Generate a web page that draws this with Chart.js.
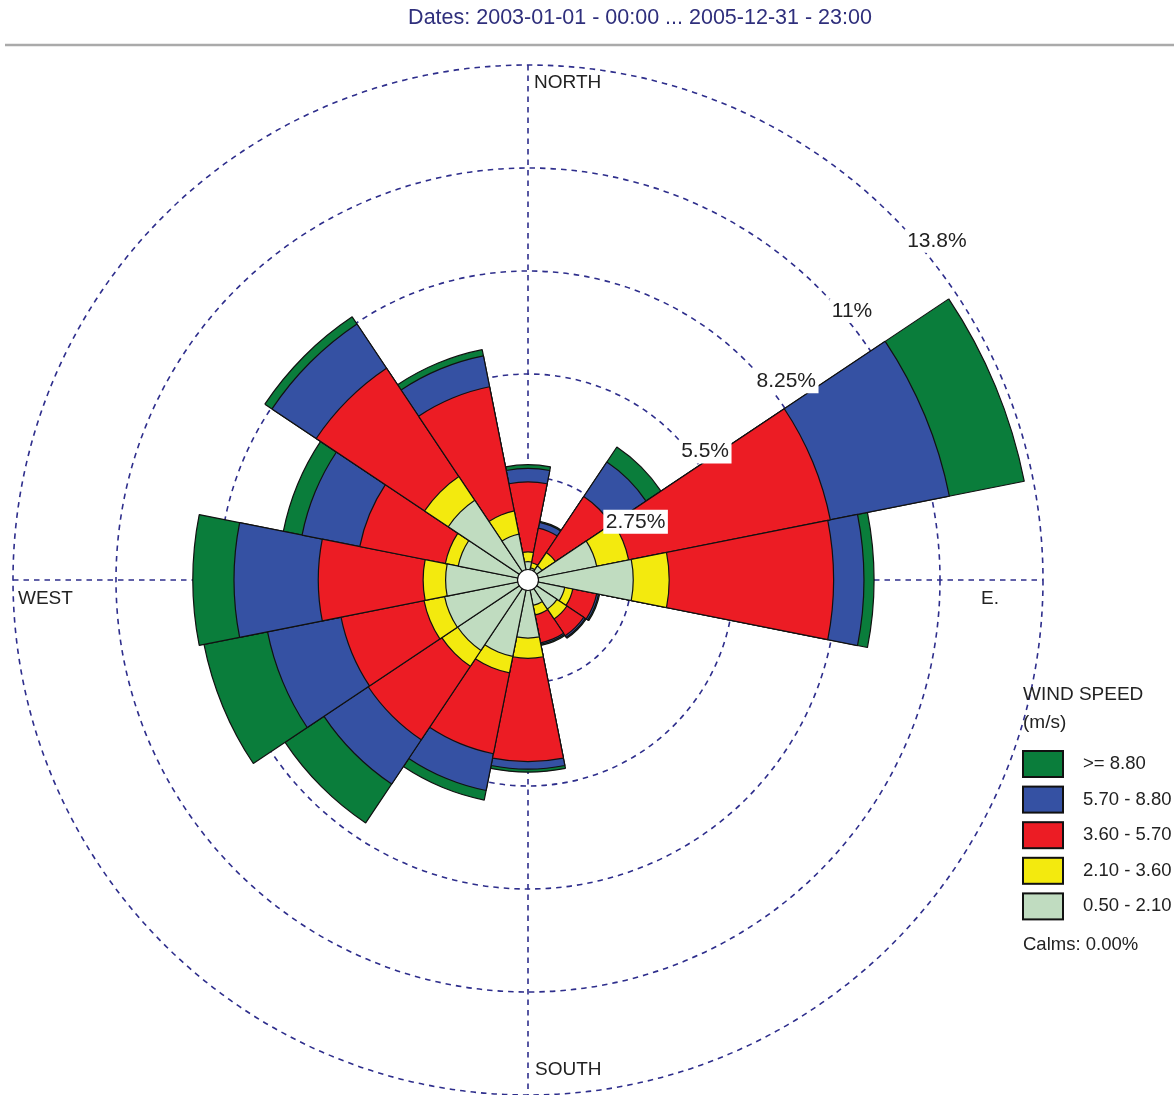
<!DOCTYPE html>
<html>
<head>
<meta charset="utf-8">
<script src="https://cdn.jsdelivr.net/npm/chart.js@4.4.1/dist/chart.umd.min.js"></script>
<style>
html,body{margin:0;padding:0;background:#fff;overflow:hidden}
canvas{display:block}
</style>
</head>
<body>
<canvas id="c" width="1174" height="1095"></canvas>
<script>
// ---- data (percent of hours per class) ----
const directions = ['N','NNE','NE','ENE','E','ESE','SE','SSE','S','SSW','SW','WSW','W','WNW','NW','NNW'];
const speedClasses = ['0.50 - 2.10','2.10 - 3.60','3.60 - 5.70','5.70 - 8.80','>= 8.80'];
const speed050_210 = [0.49,0.33,0.45,1.87,2.81,1.00,0.93,0.69,1.55,2.08,2.26,2.27,2.20,1.90,2.56,1.25];
const speed210_360 = [0.26,0.14,0.43,0.87,0.96,0.22,0.32,0.26,0.54,0.45,0.51,0.56,0.60,0.35,0.76,0.63];
const speed360_570 = [1.87,0.94,1.80,5.49,4.39,0.65,0.54,0.76,2.76,2.20,2.36,2.26,2.80,2.33,3.48,3.38];
const speed570_880 = [0.36,0.16,1.11,3.24,0.81,0.05,0.05,0.04,0.20,1.00,1.42,2.00,2.25,1.57,1.42,0.84];
const speed880_up  = [0.10,0.03,0.48,2.04,0.27,0.03,0.03,0.03,0.08,0.26,1.25,1.73,1.10,0.51,0.23,0.17];
const ringTicks  = [2.75, 5.5, 8.25, 11, 13.75];
const ringLabels = ['2.75%','5.5%','8.25%','11%','13.8%'];
const titleText = 'Dates: 2003-01-01 - 00:00 ... 2005-12-31 - 23:00';
const legendTitle = ['WIND SPEED','(m/s)'];
const calmsText = 'Calms: 0.00%';
const compassLabels = ['NORTH','E.','SOUTH','WEST'];

// ---- styling ----
const classColors = ['#c0dcc0','#f3ea0e','#ec1c24','#3551a3','#0a7d3b'];
const gridColor = '#2e2e8c';
const FONT = '"Liberation Sans", Arial, Helvetica, sans-serif';

const series = [speed050_210, speed210_360, speed360_570, speed570_880, speed880_up];
// stacked (cumulative) radii per class
const cumulative = [];
series.forEach((s, k) => {
  cumulative.push(s.map((v, i) => +(v + (k ? cumulative[k-1][i] : 0)).toFixed(2)));
});

const datasets = cumulative.map((d, k) => ({
  label: speedClasses[k],
  data: d,
  backgroundColor: classColors[k],
  borderColor: '#111',
  borderWidth: 1.2
}));

const decor = {
  id: 'decor',
  beforeDraw(chart) {
    const ctx = chart.ctx;
    ctx.save();
    ctx.fillStyle = '#fff';
    ctx.fillRect(0, 0, chart.width, chart.height);
    ctx.font = '21.5px ' + FONT;
    ctx.fillStyle = '#2f2f7c';
    ctx.textAlign = 'center';
    ctx.textBaseline = 'middle';
    ctx.fillText(titleText, 640, 18);
    ctx.strokeStyle = '#aaaaaa';
    ctx.lineWidth = 2.5;
    ctx.beginPath();
    ctx.moveTo(5, 45); ctx.lineTo(chart.width, 45);
    ctx.stroke();
    ctx.restore();
  },
  beforeDatasetsDraw(chart) {
    const s = chart.scales.r, ctx = chart.ctx;
    const xc = s.xCenter, yc = s.yCenter, R = s.drawingArea;
    ctx.save();
    ctx.strokeStyle = gridColor;
    ctx.lineWidth = 1.6;
    ctx.setLineDash([5.5, 5]);
    ctx.beginPath();
    ctx.moveTo(xc, yc - R); ctx.lineTo(xc, yc + R);
    ctx.moveTo(xc - R, yc); ctx.lineTo(xc + R, yc);
    ctx.stroke();
    ctx.restore();
  },
  afterDatasetsDraw(chart) {
    const s = chart.scales.r, ctx = chart.ctx;
    const xc = s.xCenter, yc = s.yCenter, R = s.drawingArea;
    ctx.save();
    // calm hole
    ctx.beginPath();
    ctx.arc(xc, yc, 10.5, 0, Math.PI * 2);
    ctx.fillStyle = '#fff';
    ctx.fill();
    ctx.strokeStyle = '#111';
    ctx.lineWidth = 1.2;
    ctx.stroke();
    // ring labels
    const a = 43 * Math.PI / 180;
    ctx.font = '21px ' + FONT;
    ctx.textAlign = 'left';
    ctx.textBaseline = 'middle';
    ringTicks.forEach((v, i) => {
      const r = s.getDistanceFromCenterForValue(v);
      const x = xc + r * Math.cos(a), y = yc - r * Math.sin(a);
      const w = ctx.measureText(ringLabels[i]).width + 5;
      ctx.fillStyle = '#fff';
      ctx.fillRect(x, y, w, 24);
      ctx.fillStyle = '#222';
      ctx.fillText(ringLabels[i], x + 2.5, y + 12);
    });
    // compass labels
    ctx.font = '19px ' + FONT;
    ctx.fillStyle = '#222';
    ctx.fillText(compassLabels[0], xc + 6, yc - R + 18);
    ctx.fillText(compassLabels[1], xc + R - 62, yc + 19);
    ctx.fillText(compassLabels[2], xc + 7, yc + R - 25);
    ctx.fillText(compassLabels[3], xc - R + 5, yc + 19);
    ctx.restore();
  },
  afterDraw(chart) {
    const ctx = chart.ctx;
    const lx = 1023;
    ctx.save();
    ctx.font = '19px ' + FONT;
    ctx.fillStyle = '#222';
    ctx.textAlign = 'left';
    ctx.textBaseline = 'middle';
    ctx.fillText(legendTitle[0], lx, 695);
    ctx.fillText(legendTitle[1], lx, 723);
    ctx.font = '18.5px ' + FONT;
    for (let i = 0; i < speedClasses.length; i++) {
      const k = speedClasses.length - 1 - i;
      const top = 751 + i * 35.6;
      ctx.fillStyle = classColors[k];
      ctx.fillRect(lx, top, 40, 26);
      ctx.strokeStyle = '#111';
      ctx.lineWidth = 2;
      ctx.strokeRect(lx, top, 40, 26);
      ctx.fillStyle = '#222';
      ctx.fillText(speedClasses[k], 1083, top + 13);
    }
    ctx.fillText(calmsText, lx, 945);
    ctx.restore();
  }
};

new Chart(document.getElementById('c'), {
  type: 'polarArea',
  data: { labels: directions, datasets },
  options: {
    responsive: false,
    animation: false,
    events: [],
    layout: { padding: { left: 13, right: 130, top: 65, bottom: 0 } },
    plugins: {
      legend: { display: false },
      title: { display: false },
      tooltip: { enabled: false }
    },
    scales: {
      r: {
        min: 0,
        max: 13.75,
        startAngle: -11.25,
        ticks: { display: false, stepSize: 2.75 },
        grid: { circular: true, color: gridColor, lineWidth: 1.6 },
        border: { dash: [5.5, 5] },
        angleLines: { display: false },
        pointLabels: { display: false }
      }
    }
  },
  plugins: [decor]
});
</script>
</body>
</html>
